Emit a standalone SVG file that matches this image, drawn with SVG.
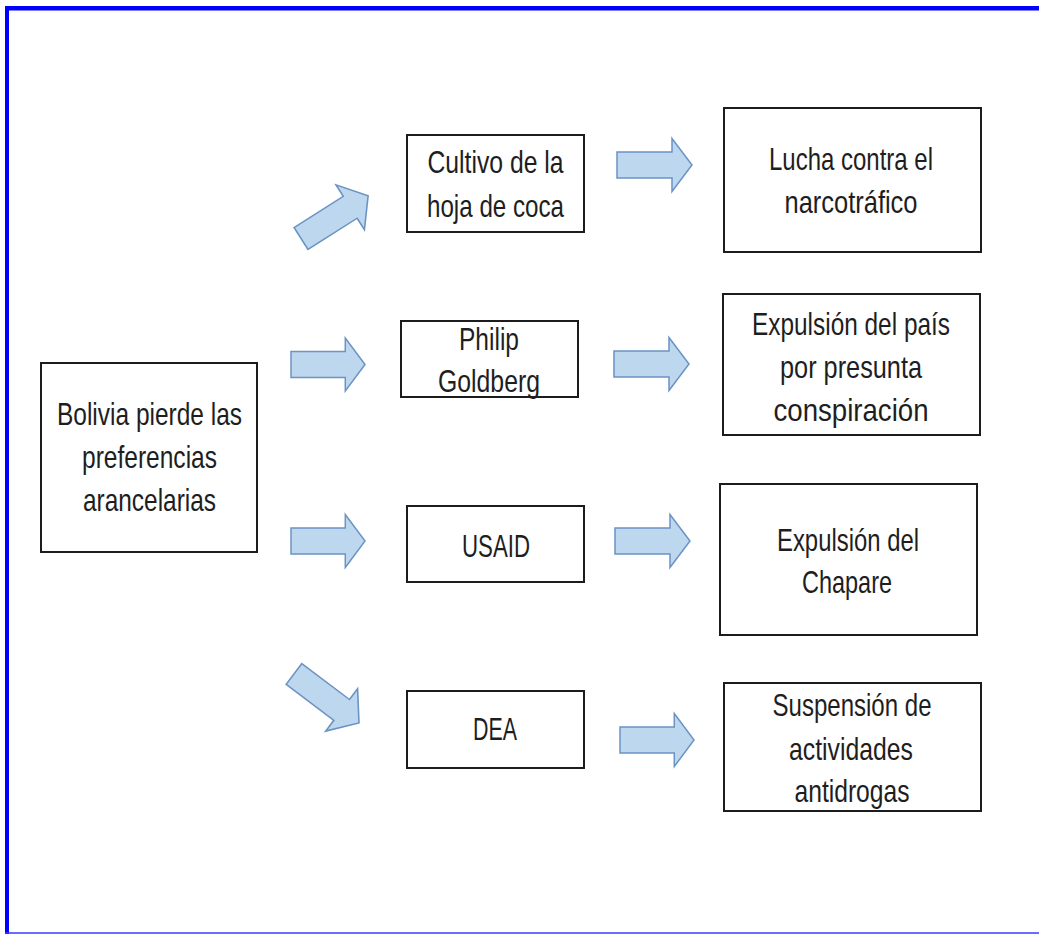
<svg xmlns="http://www.w3.org/2000/svg" width="1039" height="934" viewBox="0 0 1039 934">
<style>
.box{fill:#ffffff;stroke:#1c1c1c;stroke-width:2}
.t{font-family:"Liberation Sans",Arial,sans-serif;font-size:30.5px;fill:#1e1e1e;text-anchor:middle}
.arr{fill:#bdd7ee;stroke:#6b93c3;stroke-width:1.5;stroke-linejoin:miter}
</style>
<defs>
<path id="arrow" d="M0,-13 L55,-13 L55,-26.5 L75,0 L55,26.5 L55,13 L0,13 Z"/>
</defs>
<rect width="1039" height="934" fill="#ffffff"/>
<g id="frame" fill="none">
<line x1="5" y1="8.3" x2="1039" y2="8.3" stroke="#0000ff" stroke-width="4.5"/>
<line x1="7" y1="6" x2="7" y2="934" stroke="#0000ff" stroke-width="4"/>
<line x1="5" y1="933" x2="1039" y2="933" stroke="#3a3aff" stroke-width="1.6"/>
</g>
<g id="connectors">
<use href="#arrow" class="arr" transform="translate(301,238.5) rotate(-32.4) scale(1.06,1)"/>
<use href="#arrow" class="arr" transform="translate(291,364.5) scale(0.987,1)"/>
<use href="#arrow" class="arr" transform="translate(291,541) scale(0.987,1)"/>
<use href="#arrow" class="arr" transform="translate(294,674) rotate(37) scale(1.085,1)"/>
<use href="#arrow" class="arr" transform="translate(617,165)"/>
<use href="#arrow" class="arr" transform="translate(614,364)"/>
<use href="#arrow" class="arr" transform="translate(615,541)"/>
<use href="#arrow" class="arr" transform="translate(620,740) scale(0.987,1)"/>
</g>
<g id="node-bolivia">
<rect class="box" x="41" y="363" width="216" height="189"/>
<text class="t" x="149.5" y="425" textLength="185" lengthAdjust="spacingAndGlyphs">Bolivia pierde las</text>
<text class="t" x="149.5" y="468" textLength="135" lengthAdjust="spacingAndGlyphs">preferencias</text>
<text class="t" x="149.5" y="511" textLength="133" lengthAdjust="spacingAndGlyphs">arancelarias</text>
</g>
<g id="node-cultivo">
<rect class="box" x="407" y="135" width="177" height="97"/>
<text class="t" x="495.5" y="173" textLength="136" lengthAdjust="spacingAndGlyphs">Cultivo de la</text>
<text class="t" x="495.5" y="217" textLength="137" lengthAdjust="spacingAndGlyphs">hoja de coca</text>
</g>
<g id="node-philip">
<rect class="box" x="401" y="321" width="177" height="76"/>
<text class="t" x="489" y="350" textLength="60" lengthAdjust="spacingAndGlyphs">Philip</text>
<text class="t" x="489" y="392" textLength="102" lengthAdjust="spacingAndGlyphs">Goldberg</text>
</g>
<g id="node-usaid">
<rect class="box" x="407" y="506" width="177" height="76"/>
<text class="t" x="496" y="557" textLength="68" lengthAdjust="spacingAndGlyphs">USAID</text>
</g>
<g id="node-dea">
<rect class="box" x="407" y="691" width="177" height="77"/>
<text class="t" x="495" y="740" textLength="44" lengthAdjust="spacingAndGlyphs">DEA</text>
</g>
<g id="node-lucha">
<rect class="box" x="724" y="108" width="257" height="144"/>
<text class="t" x="851" y="170" textLength="164" lengthAdjust="spacingAndGlyphs">Lucha contra el</text>
<text class="t" x="851" y="213" textLength="133" lengthAdjust="spacingAndGlyphs">narcotráfico</text>
</g>
<g id="node-expulsion-pais">
<rect class="box" x="723" y="294" width="257" height="141"/>
<text class="t" x="851" y="335" textLength="198" lengthAdjust="spacingAndGlyphs">Expulsión del país</text>
<text class="t" x="851" y="378" textLength="142" lengthAdjust="spacingAndGlyphs">por presunta</text>
<text class="t" x="851" y="421" textLength="155" lengthAdjust="spacingAndGlyphs">conspiración</text>
</g>
<g id="node-chapare">
<rect class="box" x="720" y="484" width="257" height="151"/>
<text class="t" x="848" y="551" textLength="142" lengthAdjust="spacingAndGlyphs">Expulsión del</text>
<text class="t" x="847" y="593" textLength="90" lengthAdjust="spacingAndGlyphs">Chapare</text>
</g>
<g id="node-suspension">
<rect class="box" x="724" y="683" width="257" height="128"/>
<text class="t" x="852" y="716" textLength="159" lengthAdjust="spacingAndGlyphs">Suspensión de</text>
<text class="t" x="851" y="760" textLength="124" lengthAdjust="spacingAndGlyphs">actividades</text>
<text class="t" x="852" y="802" textLength="115" lengthAdjust="spacingAndGlyphs">antidrogas</text>
</g>
</svg>
